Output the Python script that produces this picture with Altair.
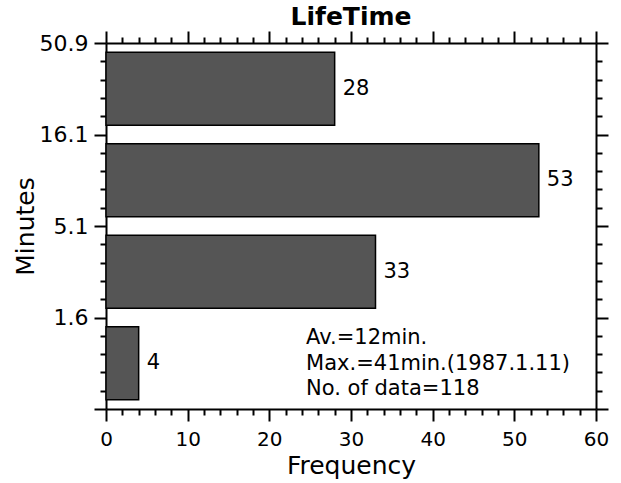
import altair as alt
import pandas as pd

# ---- data ----
bin_index = [0, 1, 2, 3]                 # bins from bottom to top
frequency = [4, 33, 53, 28]              # bar lengths
edge_labels = ["", "1.6", "5.1", "16.1", "50.9"]   # bin-edge labels (minutes)
freq_ticks = list(range(0, 61, 2))       # x ticks (major every 10)
minute_ticks = list(range(0, 21))        # y ticks (5 minor steps per bin)
notes = ["Av.=12min.", "Max.=41min.(1987.1.11)", "No. of data=118"]
title_text = ["LifeTime"]

FONT = "DejaVu Sans"
STEPS = 5
PAD = 0.5

df = pd.DataFrame({"bin": bin_index, "count": frequency})
note_df = pd.DataFrame({"x": [24.5], "y": [3.55], "text": ["\n".join(notes)]})
title_df = pd.DataFrame({"text": title_text})

xscale = alt.Scale(domain=[0, 60], nice=False, zero=False)
yscale = alt.Scale(domain=[0, 20], nice=False, zero=False)

major_x = "datum.value % 10 === 0"
major_y = "datum.value % 5 === 0"
label_arr = "[" + ",".join(f"'{s}'" for s in edge_labels) + "]"

common = dict(
    grid=False, domainColor="black", domainWidth=2, tickColor="black",
    tickWidth=2, labelColor="black", labelFont=FONT,
    labelOverlap=False, labelFlush=False,
)

x_bottom = alt.Axis(
    orient="bottom", values=freq_ticks,
    tickSize=alt.ExprRef(f"{major_x} ? 12 : 6"),
    labelExpr=f"{major_x} ? datum.label : ''", labelPadding=8,
    labelFontSize=20,
    title="Frequency", titleFont=FONT, titleFontSize=25,
    titleFontWeight="normal", titleColor="black", titleX=245, titleY=64,
    titleAlign="center", titleBaseline="alphabetic", **common,
)
x_top = alt.Axis(
    orient="top", values=freq_ticks,
    tickSize=alt.ExprRef(f"{major_x} ? 12 : 6"),
    labels=False, title=None, **common,
)
y_left = alt.Axis(
    orient="left", values=minute_ticks,
    tickSize=alt.ExprRef(f"{major_y} ? 12 : 6"),
    labelExpr=f"{major_y} ? {label_arr}[datum.value / {STEPS}] : ''",
    labelPadding=6, labelFontSize=22,
    title="Minutes", titleFont=FONT, titleFontSize=25,
    titleFontWeight="normal", titleColor="black", titleAngle=270,
    titleX=-73, titleY=183, titleAlign="center", titleBaseline="alphabetic",
    **common,
)
y_right = alt.Axis(
    orient="right", values=minute_ticks,
    tickSize=alt.ExprRef(f"{major_y} ? 12 : 6"),
    labels=False, title=None, **common,
)

bars = alt.Chart(df).transform_calculate(
    lo=f"datum.bin*{STEPS}+{PAD}",
    hi=f"datum.bin*{STEPS}+{STEPS}-{PAD}",
).mark_bar(color="#555555", stroke="black", strokeWidth=1.5).encode(
    x=alt.X("count:Q", scale=xscale, axis=x_bottom),
    x2=alt.datum(0),
    y=alt.Y("lo:Q", scale=yscale, axis=y_left),
    y2="hi:Q",
)

labels = alt.Chart(df).transform_calculate(
    mid=f"datum.bin*{STEPS}+{STEPS}/2",
).mark_text(
    align="left", baseline="middle", dx=8, font=FONT, fontSize=21, color="black"
).encode(
    x=alt.X("count:Q", scale=xscale, axis=x_top),
    y=alt.Y("mid:Q", scale=yscale, axis=y_right),
    text="count:Q",
)

note = alt.Chart(note_df).mark_text(
    align="left", baseline="alphabetic", lineBreak="\n", lineHeight=25.5,
    font=FONT, fontSize=21, color="black",
).encode(
    x=alt.X("x:Q", scale=xscale, axis=None),
    y=alt.Y("y:Q", scale=yscale, axis=None),
    text="text:N",
)

title = alt.Chart(title_df).mark_text(
    align="center", baseline="alphabetic", font=FONT, fontSize=25,
    fontWeight="bold", color="black",
).encode(
    x=alt.value(245), y=alt.value(-18), text="text:N",
)

chart = alt.layer(bars, labels, note, title).resolve_axis(
    x="independent", y="independent"
).properties(
    width=490, height=366,
    autosize=alt.AutoSizeParams(type="none"),
    padding={"left": 106, "top": 43, "right": 25, "bottom": 74},
).configure_view(stroke=None).configure(background="white")

chart.save("out.html", embed_options={"renderer": "svg", "actions": False})
